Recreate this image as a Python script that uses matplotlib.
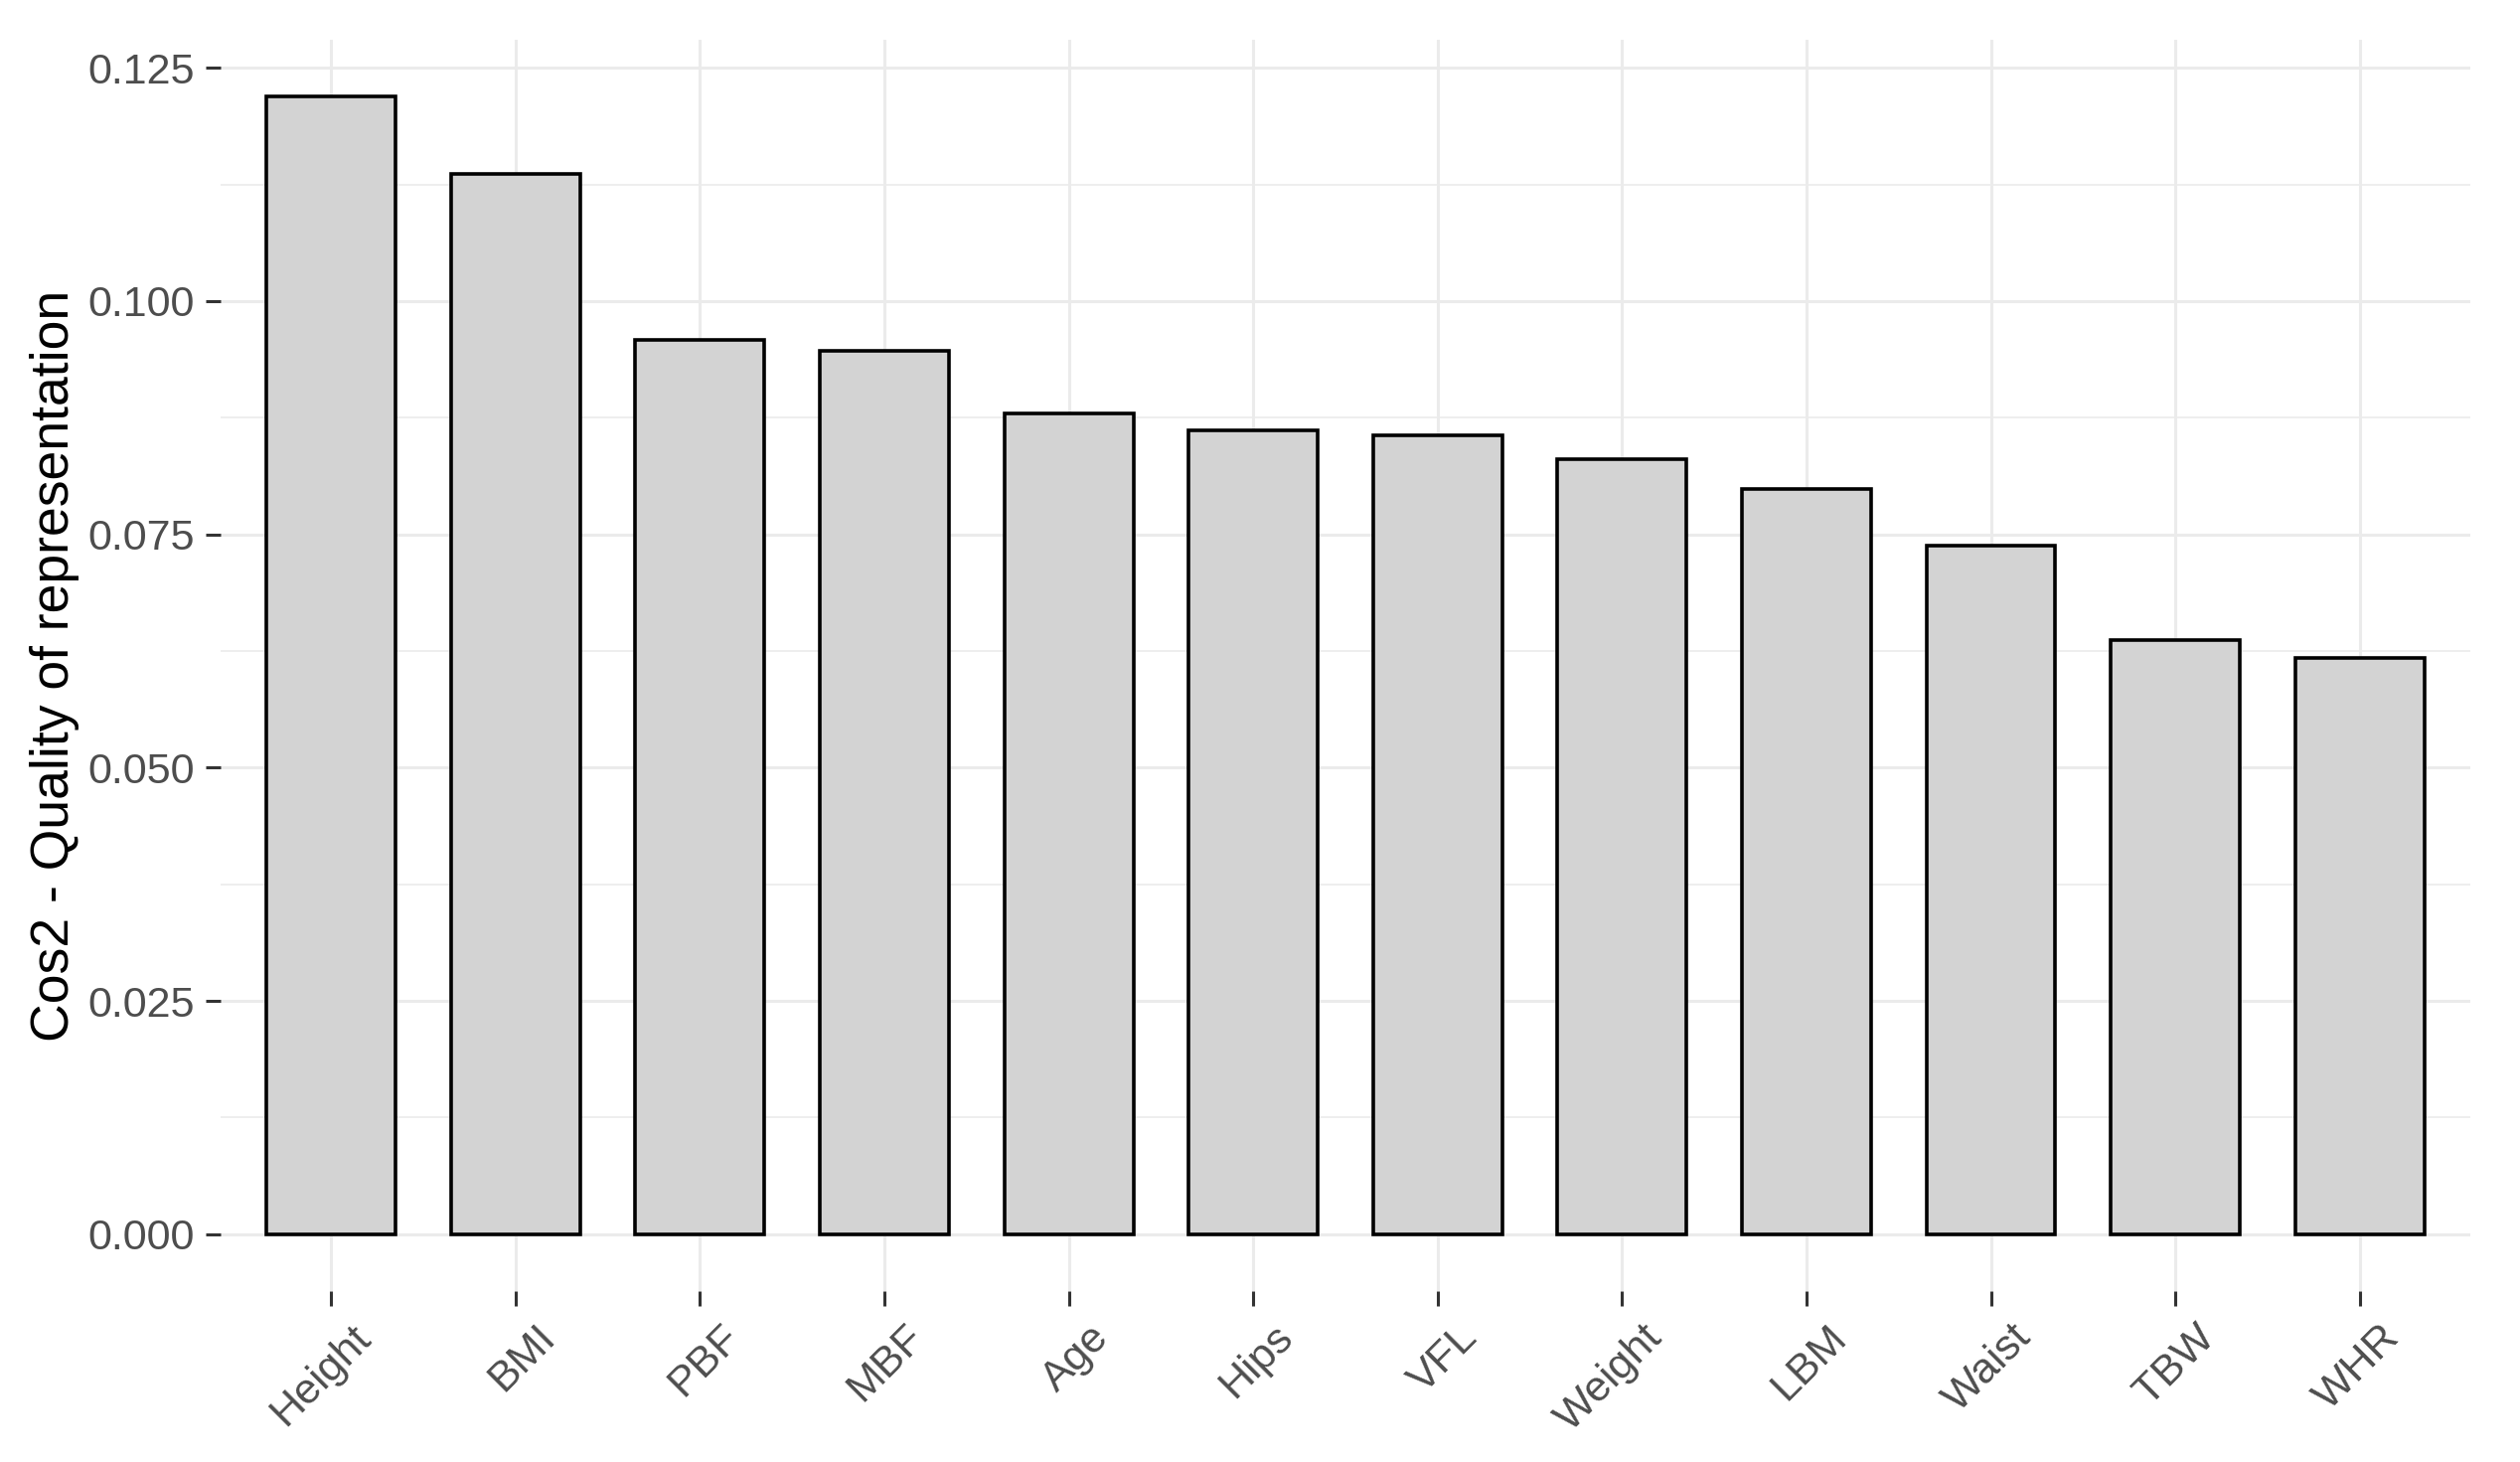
import numpy as np
import matplotlib
matplotlib.use("Agg")
import matplotlib.pyplot as plt
import matplotlib.transforms as mtransforms

variables = ["Height", "BMI", "PBF", "MBF", "Age", "Hips", "VFL",
             "Weight", "LBM", "Waist", "TBW", "WHR"]
cos2 = [0.1219, 0.1136, 0.0958, 0.0947, 0.0879, 0.0861, 0.0856,
        0.0830, 0.0799, 0.0738, 0.0637, 0.0617]
y_ticks = [0.000, 0.025, 0.050, 0.075, 0.100, 0.125]

plt.rcParams['font.family'] = ['Liberation Sans', 'DejaVu Sans']

fig = plt.figure(figsize=(25.36, 14.71), dpi=100)
ax = fig.add_axes([0.0875, 0.1169, 0.9803 - 0.0875, 0.9728 - 0.1169])

x = np.arange(1, len(variables) + 1)
ax.bar(x, cos2, width=0.7, color="#D3D3D3", edgecolor="black",
       linewidth=2.6, zorder=3)

top = max(cos2)
ax.set_xlim(0.4, len(variables) + 0.6)
ax.set_ylim(-0.05 * top, 1.05 * top)

ax.set_yticks(y_ticks)
ax.set_yticklabels([f"{v:.3f}" for v in y_ticks])
ax.set_yticks([v + 0.0125 for v in y_ticks[:-1]], minor=True)
ax.set_xticks(x)
ax.set_xticklabels(variables, rotation=45, ha="right", va="top",
                   rotation_mode="anchor")

ax.grid(True, which="major", color="#EBEBEB", linewidth=2.2, zorder=0)
ax.grid(True, which="minor", axis="y", color="#EBEBEB", linewidth=1.2, zorder=0)
ax.set_axisbelow(True)
for s in ax.spines.values():
    s.set_visible(False)

ax.tick_params(axis="both", which="major", length=11, width=2.2,
               color="#333333", labelcolor="#4D4D4D", labelsize=31, pad=8)
ax.tick_params(axis="both", which="minor", length=0)

offset = mtransforms.ScaledTranslation(0.2, 0, fig.dpi_scale_trans)
for lab in ax.get_xticklabels():
    lab.set_transform(lab.get_transform() + offset)

ax.set_ylabel("Cos2 - Quality of representation", fontsize=38.5,
              color="black", labelpad=6)

fig.savefig("out.png", dpi=100, facecolor="white")
